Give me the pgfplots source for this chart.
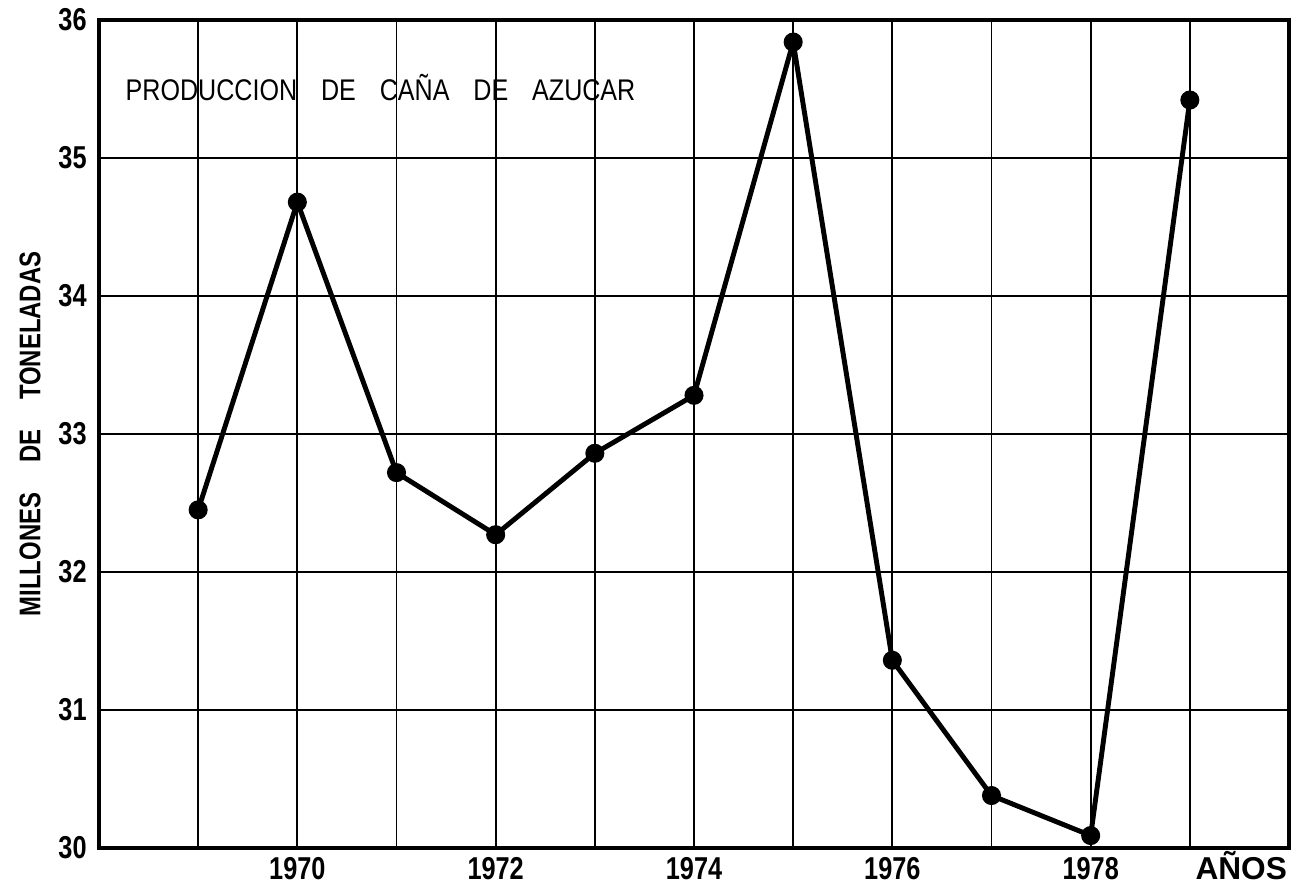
\documentclass[border=0pt]{standalone}
\usepackage{fontspec}
\setmainfont{Liberation Sans}
\newfontfamily\cond[FakeStretch=0.8]{Liberation Sans}
\newfontfamily\semicond[FakeStretch=0.84]{Liberation Sans}
\usepackage{pgfplots}
\pgfplotsset{compat=1.18}
\begin{document}
\begin{tikzpicture}
\begin{axis}[
  scale only axis, width=11.90cm, height=8.28cm,
  xmin=1968, xmax=1980, ymin=30, ymax=36,
  xtick={1970,1972,1974,1976,1978},
  minor xtick={1969,1971,1973,1975,1977,1979},
  ytick={30,31,32,33,34,35,36},
  grid=both,
  major grid style={black, line width=0.5pt},
  minor grid style={black, line width=0.5pt},
  major tick length=0pt, minor tick length=0pt,
  axis line style={line width=1.1pt},
  /pgf/number format/1000 sep={},
  /pgf/number format/assume math mode=true,
  xticklabel style={font=\cond\bfseries\fontsize{9}{9}\selectfont, anchor=north, text height=6.5pt, text depth=0pt, yshift=1pt},
  yticklabel style={font=\cond\bfseries\fontsize{9}{9}\selectfont},
  extra x ticks={1979.5}, extra x tick labels={AÑOS},
  extra x tick style={grid=none, major tick length=0pt, xticklabel style={font=\bfseries\fontsize{9}{9}\selectfont, xshift=0.5pt}},
  ylabel={MILLONES\quad DE\quad TONELADAS},
  every axis y label/.style={at={([xshift=-19.6pt]rel axis cs:0,0.5)}, anchor=center, rotate=90, font=\cond\bfseries\fontsize{8.5}{8.5}\selectfont},
]
\addplot[black, line width=1.4pt, mark=*, mark size=2pt] coordinates {
  (1969,32.45) (1970,34.68) (1971,32.72) (1972,32.27) (1973,32.86)
  (1974,33.28) (1975,35.84) (1976,31.36) (1977,30.38) (1978,30.09)
  (1979,35.42)
};
\node[anchor=west, font=\semicond\fontsize{8.5}{8.5}\selectfont, inner sep=0pt] at ([xshift=7.4pt, yshift=-19.3pt]rel axis cs:0,1) {PRODUCCION\hspace{0.8em}DE\hspace{0.8em}CAÑA\hspace{0.8em}DE\hspace{0.8em}AZUCAR};
\coordinate (bl) at (rel axis cs:0,0);
\coordinate (tr) at (rel axis cs:1,1);
\end{axis}
\pgfresetboundingbox
\path ([shift={(-0.99cm,-0.41cm)}]bl) rectangle ([shift={(0.08cm,0.20cm)}]tr);
\end{tikzpicture}
\end{document}
